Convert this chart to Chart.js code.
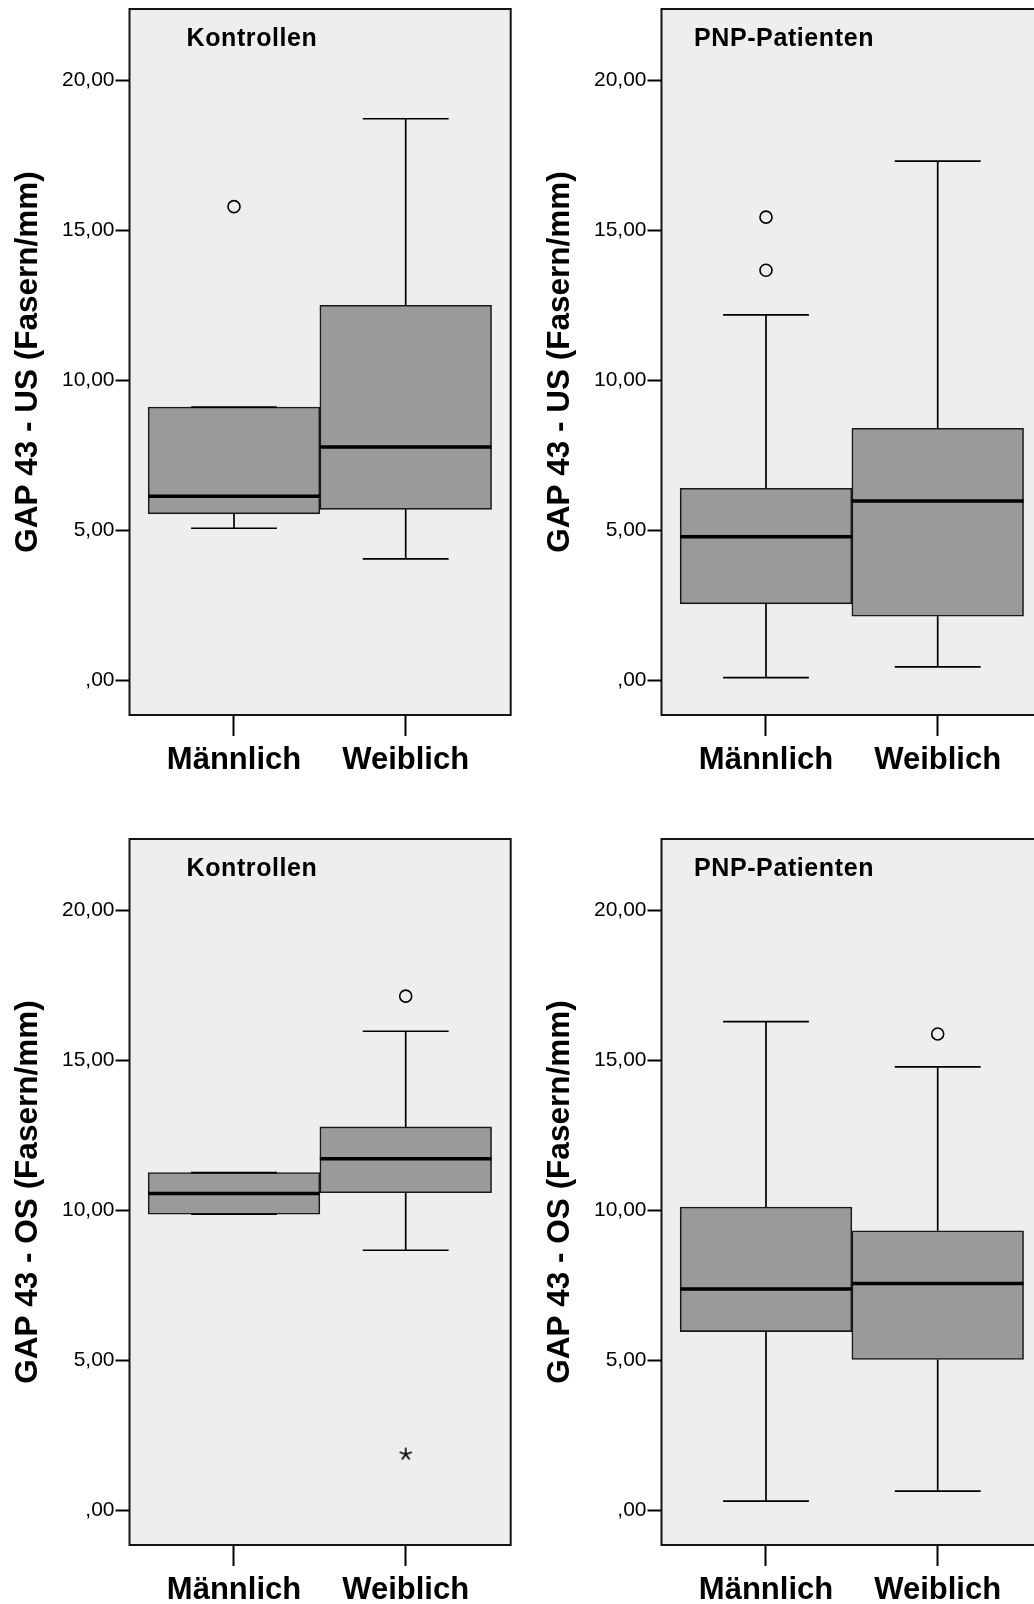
<!DOCTYPE html>
<html><head><meta charset="utf-8">
<script src="https://cdn.jsdelivr.net/npm/chart.js@4/dist/chart.umd.min.js"></script>
<style>
html,body{margin:0;padding:0;background:#fff;overflow:hidden;width:1034px;height:1604px;position:relative;}
.panel{position:absolute;width:520px;height:790px;}
canvas{display:block;}
</style></head><body>
<div class="panel" style="left:0;top:0"><canvas id="c0" width="520" height="790"></canvas></div>
<div class="panel" style="left:532px;top:0"><canvas id="c1" width="520" height="790"></canvas></div>
<div class="panel" style="left:0;top:830px"><canvas id="c2" width="520" height="790"></canvas></div>
<div class="panel" style="left:532px;top:830px"><canvas id="c3" width="520" height="790"></canvas></div>
<script>
const categories = ['Männlich', 'Weiblich'];
const yTickValues = [0, 5, 10, 15, 20];
const yTickLabels = [',00', '5,00', '10,00', '15,00', '20,00'];
const panelTitles = ['Kontrollen', 'PNP-Patienten', 'Kontrollen', 'PNP-Patienten'];
const axisTitles = ['GAP 43 - US (Fasern/mm)', 'GAP 43 - US (Fasern/mm)', 'GAP 43 - OS (Fasern/mm)', 'GAP 43 - OS (Fasern/mm)'];

// GAP 43 - US, Kontrollen
const usKontrollenLow = [5.07, 4.05];
const usKontrollenQ1 = [5.55, 5.70];
const usKontrollenMedian = [6.14, 7.78];
const usKontrollenQ3 = [9.11, 12.50];
const usKontrollenHigh = [9.11, 18.72];
const usKontrollenOutliers = [[15.79], []];
const usKontrollenExtremes = [[], []];

// GAP 43 - US, PNP-Patienten
const usPatientenLow = [0.09, 0.45];
const usPatientenQ1 = [2.55, 2.14];
const usPatientenMedian = [4.79, 5.98];
const usPatientenQ3 = [6.40, 8.40];
const usPatientenHigh = [12.18, 17.31];
const usPatientenOutliers = [[15.44, 13.67], []];
const usPatientenExtremes = [[], []];

// GAP 43 - OS, Kontrollen
const osKontrollenLow = [9.87, 8.67];
const osKontrollenQ1 = [9.87, 10.59];
const osKontrollenMedian = [10.56, 11.72];
const osKontrollenQ3 = [11.26, 12.78];
const osKontrollenHigh = [11.26, 15.97];
const osKontrollenOutliers = [[], [17.14]];
const osKontrollenExtremes = [[], [1.87]];

// GAP 43 - OS, PNP-Patienten
const osPatientenLow = [0.31, 0.64];
const osPatientenQ1 = [5.96, 5.03];
const osPatientenMedian = [7.38, 7.56];
const osPatientenQ3 = [10.11, 9.32];
const osPatientenHigh = [16.29, 14.78];
const osPatientenOutliers = [[], [15.88]];
const osPatientenExtremes = [[], []];

const panels = [
  {low: usKontrollenLow, q1: usKontrollenQ1, med: usKontrollenMedian, q3: usKontrollenQ3, high: usKontrollenHigh, out: usKontrollenOutliers, ext: usKontrollenExtremes},
  {low: usPatientenLow, q1: usPatientenQ1, med: usPatientenMedian, q3: usPatientenQ3, high: usPatientenHigh, out: usPatientenOutliers, ext: usPatientenExtremes},
  {low: osKontrollenLow, q1: osKontrollenQ1, med: osKontrollenMedian, q3: osKontrollenQ3, high: osKontrollenHigh, out: osKontrollenOutliers, ext: osKontrollenExtremes},
  {low: osPatientenLow, q1: osPatientenQ1, med: osPatientenMedian, q3: osPatientenQ3, high: osPatientenHigh, out: osPatientenOutliers, ext: osPatientenExtremes}
];

const FONT = "'Liberation Sans', Arial, Helvetica, sans-serif";
Chart.defaults.font.family = FONT;
Chart.defaults.color = '#000';

// asterisk marker for extreme values
const ast = document.createElement('canvas');
ast.width = 16; ast.height = 16;
(function(){
  const g = ast.getContext('2d');
  g.strokeStyle = '#000'; g.lineWidth = 1.7;
  for (let k = 0; k < 5; k++) {
    const a = -Math.PI / 2 + k * 2 * Math.PI / 5;
    g.beginPath(); g.moveTo(8, 8); g.lineTo(8 + 6.5 * Math.cos(a), 8 + 6.5 * Math.sin(a)); g.stroke();
  }
})();

const framePlugin = {
  id: 'frame',
  beforeDraw(chart) {
    const {ctx, chartArea: a} = chart;
    ctx.save();
    ctx.fillStyle = '#eeeeee';
    ctx.fillRect(a.left, a.top, a.right - a.left, a.bottom - a.top);
    ctx.restore();
  },
  afterDatasetsDraw(chart, args, opts) {
    const {ctx, chartArea: a} = chart;
    ctx.save();
    ctx.strokeStyle = '#141414';
    ctx.lineWidth = 2;
    ctx.strokeRect(a.left, a.top, a.right - a.left, a.bottom - a.top);
    ctx.fillStyle = '#000';
    ctx.font = "bold 25px " + FONT;
    try { ctx.letterSpacing = '0.6px'; } catch (e) {}
    ctx.textAlign = 'center';
    ctx.textBaseline = 'alphabetic';
    ctx.fillText(opts.title, a.left + 122.5, a.top + 37.2);
    ctx.restore();
  }
};

const capHalf = 0.25;
const boxHalf = 0.5;

function makeChart(id, p) {
  const s = panels[p];
  const idx = categories.map((c, i) => i);
  const boxData = idx.map(i => ({x: i + 1, y: [s.q1[i], s.q3[i]]}));
  const whiskerData = idx.flatMap(i => {
    const x = i + 1;
    return [
      {x: x, y: s.q3[i]}, {x: x, y: s.high[i]}, {x: x, y: null},
      {x: x - capHalf, y: s.high[i]}, {x: x + capHalf, y: s.high[i]}, {x: x, y: null},
      {x: x, y: s.q1[i]}, {x: x, y: s.low[i]}, {x: x, y: null},
      {x: x - capHalf, y: s.low[i]}, {x: x + capHalf, y: s.low[i]}, {x: x, y: null}
    ];
  });
  const medianData = idx.flatMap(i => [
    {x: i + 1 - boxHalf, y: s.med[i]}, {x: i + 1 + boxHalf, y: s.med[i]}, {x: i + 1, y: null}
  ]);
  const outData = idx.flatMap(i => s.out[i].map(v => ({x: i + 1, y: v})));
  const extData = idx.flatMap(i => s.ext[i].map(v => ({x: i + 1, y: v})));

  new Chart(document.getElementById(id), {
    type: 'bar',
    data: {
      datasets: [
        {type: 'bar', data: boxData, backgroundColor: '#9a9a9a', borderColor: '#1a1a1a', borderWidth: 1.6,
         borderSkipped: false, barPercentage: 1, categoryPercentage: 1, order: 4},
        {type: 'line', data: whiskerData, borderColor: '#000', borderWidth: 1.7, pointRadius: 0,
         spanGaps: false, fill: false, order: 3},
        {type: 'line', data: medianData, borderColor: '#000', borderWidth: 3.5, pointRadius: 0,
         spanGaps: false, fill: false, borderCapStyle: 'butt', order: 2},
        {type: 'line', data: outData, showLine: false, pointStyle: 'circle', pointRadius: 6,
         pointBorderWidth: 1.6, pointBorderColor: '#000', pointBackgroundColor: 'rgba(0,0,0,0)', order: 1},
        {type: 'line', data: extData, showLine: false, pointStyle: ast, pointRadius: 8, order: 0}
      ]
    },
    options: {
      responsive: false,
      animation: false,
      events: [],
      layout: {padding: {top: 9, right: 9.3, left: 0, bottom: 0}},
      plugins: {legend: {display: false}, tooltip: {enabled: false}, frame: {title: panelTitles[p]}},
      scales: {
        x: {
          type: 'linear', min: 0.3914, max: 2.6115, offset: false,
          afterBuildTicks: sc => { sc.ticks = categories.map((c, i) => ({value: i + 1})); },
          afterFit: sc => { sc.height = 75; sc.paddingLeft = 0; sc.paddingRight = 0; },
          grid: {drawOnChartArea: false, drawTicks: true, tickLength: 21, tickWidth: 2, tickColor: '#000', offset: false},
          border: {display: false},
          ticks: {callback: v => categories[v - 1], font: {size: 31, weight: 'bold'}, color: '#000',
                  padding: 6, maxRotation: 0, autoSkip: false}
        },
        y: {
          type: 'linear', min: -1.155, max: 22.378,
          afterBuildTicks: sc => { sc.ticks = yTickValues.map(v => ({value: v})); },
          afterFit: sc => { sc.width = 129.5; sc.paddingTop = 0; sc.paddingBottom = 0; },
          grid: {drawOnChartArea: false, drawTicks: true, tickLength: 14, tickWidth: 2, tickColor: '#000'},
          border: {display: false},
          ticks: {callback: v => yTickLabels[yTickValues.indexOf(v)], font: {size: 21}, color: '#000', padding: 1},
          title: {display: true, text: axisTitles[p], font: {size: 31.5, weight: 'bold'}, color: '#000',
                  padding: {top: 9, bottom: 0}}
        }
      }
    },
    plugins: [framePlugin]
  });
}

['c0', 'c1', 'c2', 'c3'].forEach((id, p) => makeChart(id, p));
</script>
</body></html>
